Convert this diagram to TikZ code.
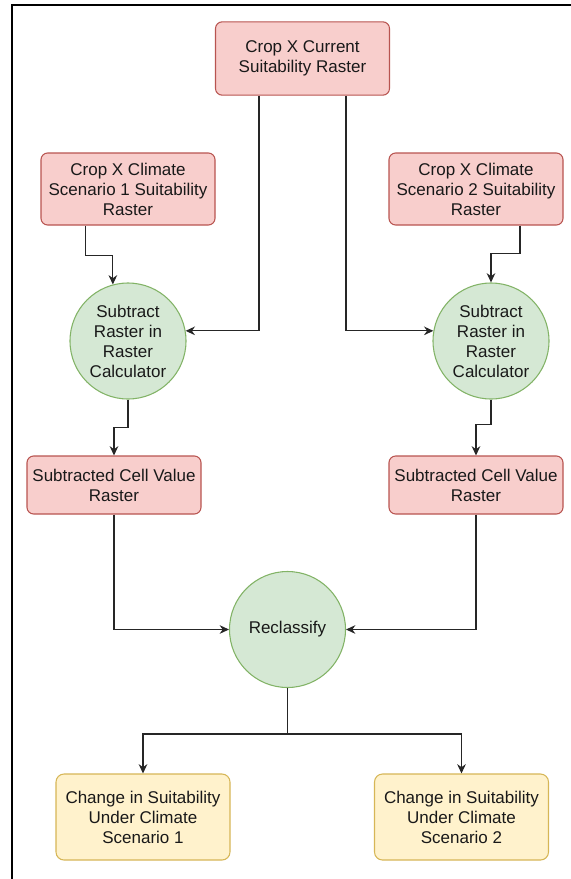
\documentclass[tikz,border=0pt]{standalone}
\usepackage{fontspec}
\setmainfont{Liberation Sans}
\usepackage{tikz}
\usetikzlibrary{shapes.geometric, arrows.meta, positioning}
\definecolor{rasterfill}{HTML}{F8CECC}
\definecolor{rasterline}{HTML}{B85450}
\definecolor{toolfill}{HTML}{D5E8D4}
\definecolor{toolline}{HTML}{82B366}
\definecolor{resultfill}{HTML}{FFF2CC}
\definecolor{resultline}{HTML}{D6B656}
\tikzstyle{raster} = [rectangle, rounded corners=5pt, minimum width=130.5pt, minimum height=54pt, align=center, draw=rasterline, fill=rasterfill, line width=0.8pt, inner sep=1pt]
\tikzstyle{tool} = [circle, minimum size=87pt, inner sep=0pt, align=center, draw=toolline, fill=toolfill, line width=0.8pt]
\tikzstyle{result} = [rectangle, rounded corners=6pt, minimum width=130.5pt, minimum height=64.5pt, align=center, draw=resultline, fill=resultfill, line width=0.8pt, inner sep=1pt]
\tikzstyle{arrow} = [line width=0.9pt, draw=black!85, -{Stealth[length=7pt,width=6.5pt]}]

\begin{document}
\begin{tikzpicture}[x=0.75pt, y=-0.75pt, font=\fontsize{12.75}{15}\selectfont, text=black!90]
	\useasboundingbox (0,0) rectangle (571,879);
	\draw [line width=2pt] (571,5) -- (12,5) -- (12,879);

	\node (crop) [raster, minimum height=55pt] at (302.5,58.5) {Crop X Current\\Suitability Raster};
	\node (scenA) [raster] at (128,189) {Crop X Climate\\Scenario 1 Suitability\\Raster};
	\node (scenB) [raster] at (476,189) {Crop X Climate\\Scenario 2 Suitability\\Raster};
	\node (calcA) [tool] at (128,341) {Subtract\\Raster in\\Raster\\Calculator};
	\node (calcB) [tool] at (491,341) {Subtract\\Raster in\\Raster\\Calculator};
	\node (diffA) [raster, minimum height=43.5pt] at (114,485) {Subtracted Cell Value\\Raster};
	\node (diffB) [raster, minimum height=43.5pt] at (476,485) {Subtracted Cell Value\\Raster};
	\node (recl) [tool] at (287.5,629.5) {Reclassify};
	\node (chgA) [result] at (143,817) {Change in Suitability\\Under Climate\\Scenario 1};
	\node (chgB) [result] at (461.5,817) {Change in Suitability\\Under Climate\\Scenario 2};

	\draw [arrow] ([xshift=-32.6pt]crop.south) |- (calcA.10);
	\draw [arrow] ([xshift=32.6pt]crop.south) |- (calcB.170);
	\draw [arrow] ([xshift=-32pt]scenA.south) -- ++(0,30) -| (calcA.105);
	\draw [arrow] ([xshift=33pt]scenB.south) -- ++(0,28) -| (calcB.north);
	\draw [arrow] (calcA.south) -- ++(0,28) -| (diffA.north);
	\draw [arrow] (calcB.south) -- ++(0,25) -| (diffB.north);
	\draw [arrow] (diffA.south) |- (recl.west);
	\draw [arrow] (diffB.south) |- (recl.east);
	\draw [arrow] (recl.south) -- ++(0,46) -| (chgA.north);
	\draw [arrow] (recl.south) -- ++(0,46) -| (chgB.north);
\end{tikzpicture}
\end{document}
